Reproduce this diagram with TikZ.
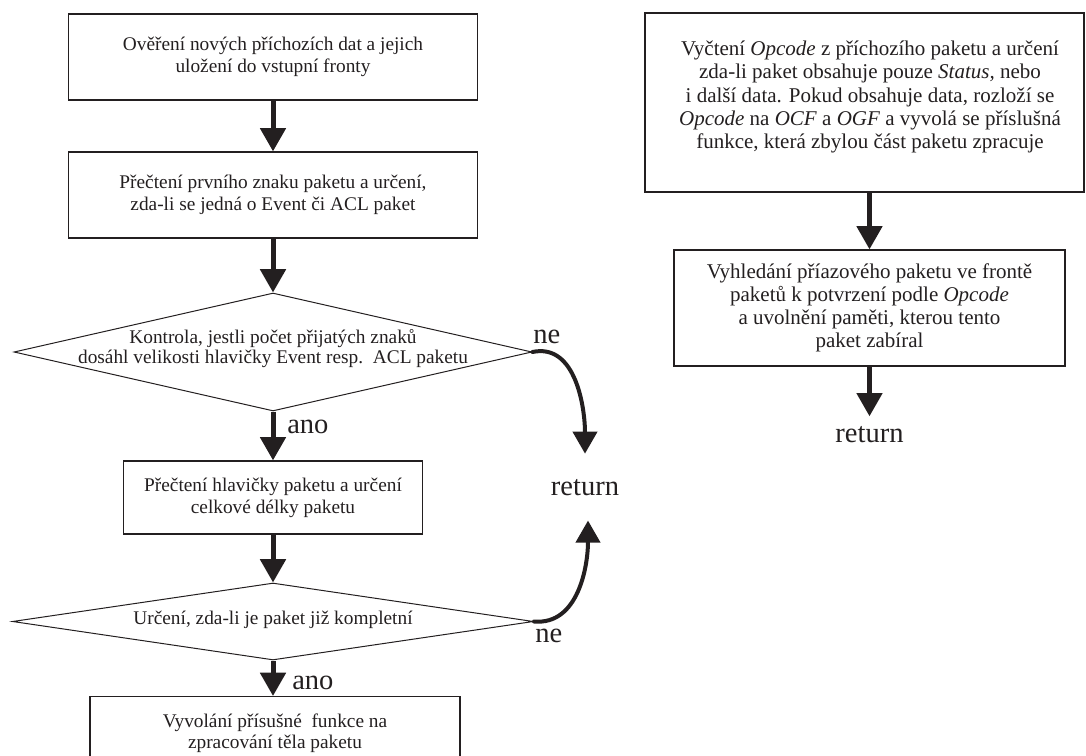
\documentclass[tikz,border=0pt]{standalone}
\usepackage{fontspec}
\setmainfont{Liberation Serif}
\usetikzlibrary{arrows.meta,shapes.geometric}
\definecolor{ink}{HTML}{231F20}
\begin{document}
\begin{tikzpicture}[x=0.75pt,y=-0.75pt,
  every node/.style={text=ink},
  box/.style={draw=ink, line width=0.9pt, inner sep=0pt, align=center,
    font=\fontsize{14.5}{16.3}\selectfont},
  rbox/.style={box, font=\fontsize{15.75}{17.3}\selectfont},
  decision/.style={draw=ink, line width=0.75pt, diamond, inner sep=0pt},
  dtext/.style={align=center, inner sep=0pt, font=\fontsize{14.5}{15}\selectfont},
  lbl/.style={inner sep=0pt, font=\fontsize{21.4}{24}\selectfont},
  flow/.style={draw=ink, line width=3.75pt, -{Triangle[width=18.75pt,length=17.5pt]}},
  curvy/.style={draw=ink, line width=3pt, line cap=round, -{Triangle[width=18pt,length=16.5pt]}},
]
\useasboundingbox (0,0) rectangle (1086,756);

% left column: main flow
\node[box, minimum width=306.75pt, minimum height=64.5pt] (b1) at (273,57)
  {Ověření nových příchozích dat a jejich\\uložení do vstupní fronty};
\node[box, minimum width=306.75pt, minimum height=64.5pt] (b2) at (273,195)
  {Přečtení prvního znaku paketu a určení,\\zda-li se jedná o Event či ACL paket};
\node[decision, minimum width=388.5pt, minimum height=88.5pt] (d1) at (273,352) {};
\node[dtext] (d1t) at (273,349)
  {Kontrola, jestli počet přijatých znaků\\dosáhl velikosti hlavičky Event resp.\ \ ACL paketu};
\node[box, minimum width=224.25pt, minimum height=54.75pt] (b3) at (273,497.5)
  {Přečtení hlavičky paketu a určení\\celkové délky paketu};
\node[decision, minimum width=390.75pt, minimum height=57.75pt] (d2) at (273,621.5) {};
\node[dtext] (d2t) at (273,620) {Určení, zda-li je paket již kompletní};
\node[box, anchor=north, minimum width=277.5pt, inner ysep=12.75pt] (b4) at (275,696)
  {Vyvolání přísušné\ \ funkce na\\zpracování těla paketu};

% return point of the left column
\node[lbl, anchor=base, inner ysep=18.75pt] (ret1) at (585,495) {return};

\draw[flow] (b1.south) -- (b2.north);
\draw[flow] (b2.south) -- (d1.north);
\draw[flow] (d1.south) -- (b3.north);
\draw[flow] (b3.south) -- (d2.north);
\draw[flow] (d2.south) -- (d2.south |- b4.north);

\node[lbl, anchor=base west] (ano1) at (287,433) {ano};
\node[lbl, anchor=base west] (ano2) at (292,689) {ano};
\node[lbl, anchor=base west] (ne1) at (533,343) {ne};
\node[lbl, anchor=base west] (ne2) at (535,642) {ne};

\draw[curvy] (d1.east) to[out=12,in=90] (ret1.north);
\draw[curvy] (d2.east) to[out=-5,in=-90] ([xshift=2.25pt]ret1.south);

% right column: status / data handling
\node[rbox, minimum width=329.25pt, minimum height=134.25pt] (r1) at (864.5,102.5) {};
\node[align=center, inner sep=0pt, font=\fontsize{15.75}{17.3}\selectfont] (r1t) at (870,97)
  {Vyčtení \textit{Opcode} z příchozího paketu a určení\\
   zda-li paket obsahuje pouze \textit{Status,} nebo\\
   i další data. Pokud obsahuje data, rozloží se\\
   \textit{Opcode} na \textit{OCF} a \textit{OGF} a vyvolá se příslušná\\
   funkce, která zbylou část paketu zpracuje};
\node[rbox, minimum width=293.25pt, minimum height=87pt] (r2) at (869.5,308)
  {Vyhledání příazového paketu ve frontě\\
   paketů k potvrzení podle \textit{Opcode}\\
   a uvolnění paměti, kterou tento\\
   paket zabíral};
\node[lbl, anchor=base, inner ysep=7pt] (ret2) at (869.5,442) {return};

\draw[flow] (r1.south -| r2.north) -- (r2.north);
\draw[flow] (r2.south) -- (ret2.north);
\end{tikzpicture}
\end{document}
